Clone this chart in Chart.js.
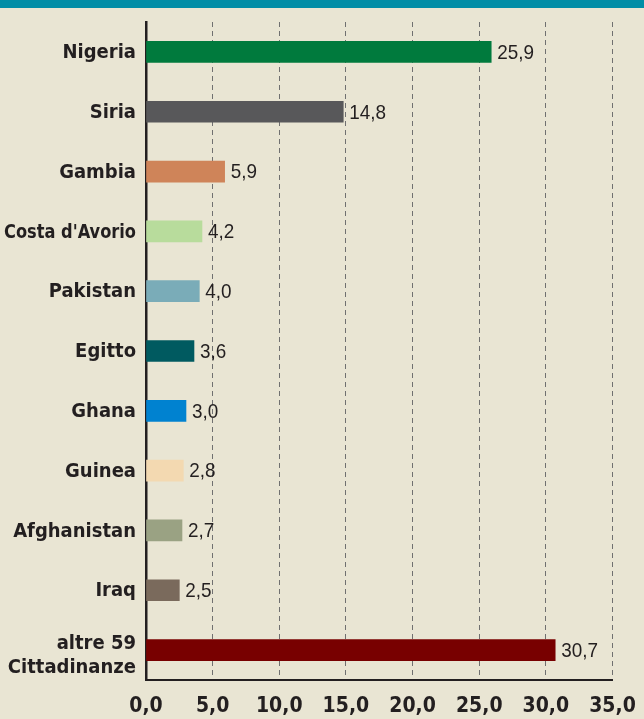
<!DOCTYPE html>
<html>
<head>
<meta charset="utf-8">
<script src="https://cdn.jsdelivr.net/npm/chart.js@4"></script>
<style>
    html, body { margin: 0; padding: 0; background: #e9e5d3; }
    #wrap { width: 644px; height: 719px; position: relative; }
</style>
</head>
<body>
<div id="wrap"><canvas id="chart" width="644" height="719"></canvas></div>
<script>
// Data
const countries = ['Nigeria', 'Siria', 'Gambia', "Costa d'Avorio", 'Pakistan', 'Egitto',
    'Ghana', 'Guinea', 'Afghanistan', 'Iraq', ['altre 59', 'Cittadinanze']];
const shares = [25.9, 14.8, 5.9, 4.2, 4.0, 3.6, 3.0, 2.8, 2.7, 2.5, 30.7];
const barColors = ['#007a3d', '#58585a', '#cf8459', '#b8dc9c', '#7aacb8', '#005a60',
    '#0082d0', '#f3d9b1', '#9aa283', '#7a6a5c', '#780000'];
const xMin = 0;
const xMax = 35;
const xStep = 5;

const inkColor = '#231f20';
const condensed = '"DejaVu Sans Condensed", "DejaVu Sans", sans-serif';

function fmt(v) {
    return v.toFixed(1).replace('.', ',');
}

// Background and teal header band
const backdrop = {
    id: 'backdrop',
    beforeDraw(chart) {
        const ctx = chart.ctx;
        ctx.save();
        ctx.fillStyle = '#e9e5d3';
        ctx.fillRect(0, 0, chart.width, chart.height);
        ctx.fillStyle = '#008da6';
        ctx.fillRect(0, 0, chart.width, 8);
        ctx.restore();
    }
};

// Country names, right aligned against the axis
const categoryLabels = {
    id: 'categoryLabels',
    afterDraw(chart) {
        const ctx = chart.ctx;
        const yScale = chart.scales.y;
        const right = yScale.right - 10;
        ctx.save();
        ctx.font = 'bold 20px ' + condensed;
        ctx.fillStyle = inkColor;
        ctx.textAlign = 'right';
        ctx.textBaseline = 'middle';
        countries.forEach((name, i) => {
            const y = yScale.getPixelForTick(i);
            if (Array.isArray(name)) {
                ctx.fillText(name[0], right, y - 6, 132);
                ctx.fillText(name[1], right, y + 18, 132);
            } else {
                ctx.fillText(name, right, y + 1, 132);
            }
        });
        ctx.restore();
    }
};

// Value labels at the end of each bar
const valueLabels = {
    id: 'valueLabels',
    afterDatasetsDraw(chart) {
        const ctx = chart.ctx;
        const meta = chart.getDatasetMeta(0);
        ctx.save();
        ctx.font = '21px "Liberation Sans", Arial, sans-serif';
        ctx.fillStyle = inkColor;
        ctx.textAlign = 'left';
        ctx.textBaseline = 'middle';
        meta.data.forEach((bar, i) => {
            ctx.save();
            ctx.translate(bar.x + 6, bar.y + 1);
            ctx.scale(0.9, 1);
            ctx.fillText(fmt(shares[i]), 0, 0);
            ctx.restore();
        });
        ctx.restore();
    }
};

const ctx = document.getElementById('chart').getContext('2d');
const chart = new Chart(ctx, {
    type: 'bar',
    data: {
        labels: countries,
        datasets: [{
            data: shares,
            backgroundColor: barColors,
            borderWidth: 0,
            barThickness: 21
        }]
    },
    options: {
        indexAxis: 'y',
        responsive: false,
        animation: false,
        layout: {
            padding: { top: 22, right: 31.5, left: 0, bottom: 0 }
        },
        plugins: {
            legend: { display: false },
            tooltip: { enabled: false }
        },
        scales: {
            x: {
                min: xMin,
                max: xMax,
                ticks: {
                    stepSize: xStep,
                    padding: 14,
                    color: inkColor,
                    font: { family: condensed, size: 21, weight: 'bold' },
                    callback: function(value) {
                        return fmt(value);
                    }
                },
                grid: {
                    drawTicks: false,
                    lineWidth: 1,
                    color: function(c) {
                        return c.index === 0 ? 'rgba(0,0,0,0)' : '#707070';
                    }
                },
                border: {
                    display: true,
                    color: inkColor,
                    width: 2,
                    dash: [5, 4]
                },
                afterFit: function(scale) {
                    scale.height = 39;
                    scale.paddingLeft = 0;
                    scale.paddingRight = 0;
                }
            },
            y: {
                ticks: { display: false },
                grid: { display: false, drawTicks: false },
                border: {
                    display: true,
                    color: inkColor,
                    width: 2.5
                },
                afterFit: function(scale) {
                    scale.width = 146;
                }
            }
        }
    },
    plugins: [backdrop, categoryLabels, valueLabels]
});
</script>
</body>
</html>
